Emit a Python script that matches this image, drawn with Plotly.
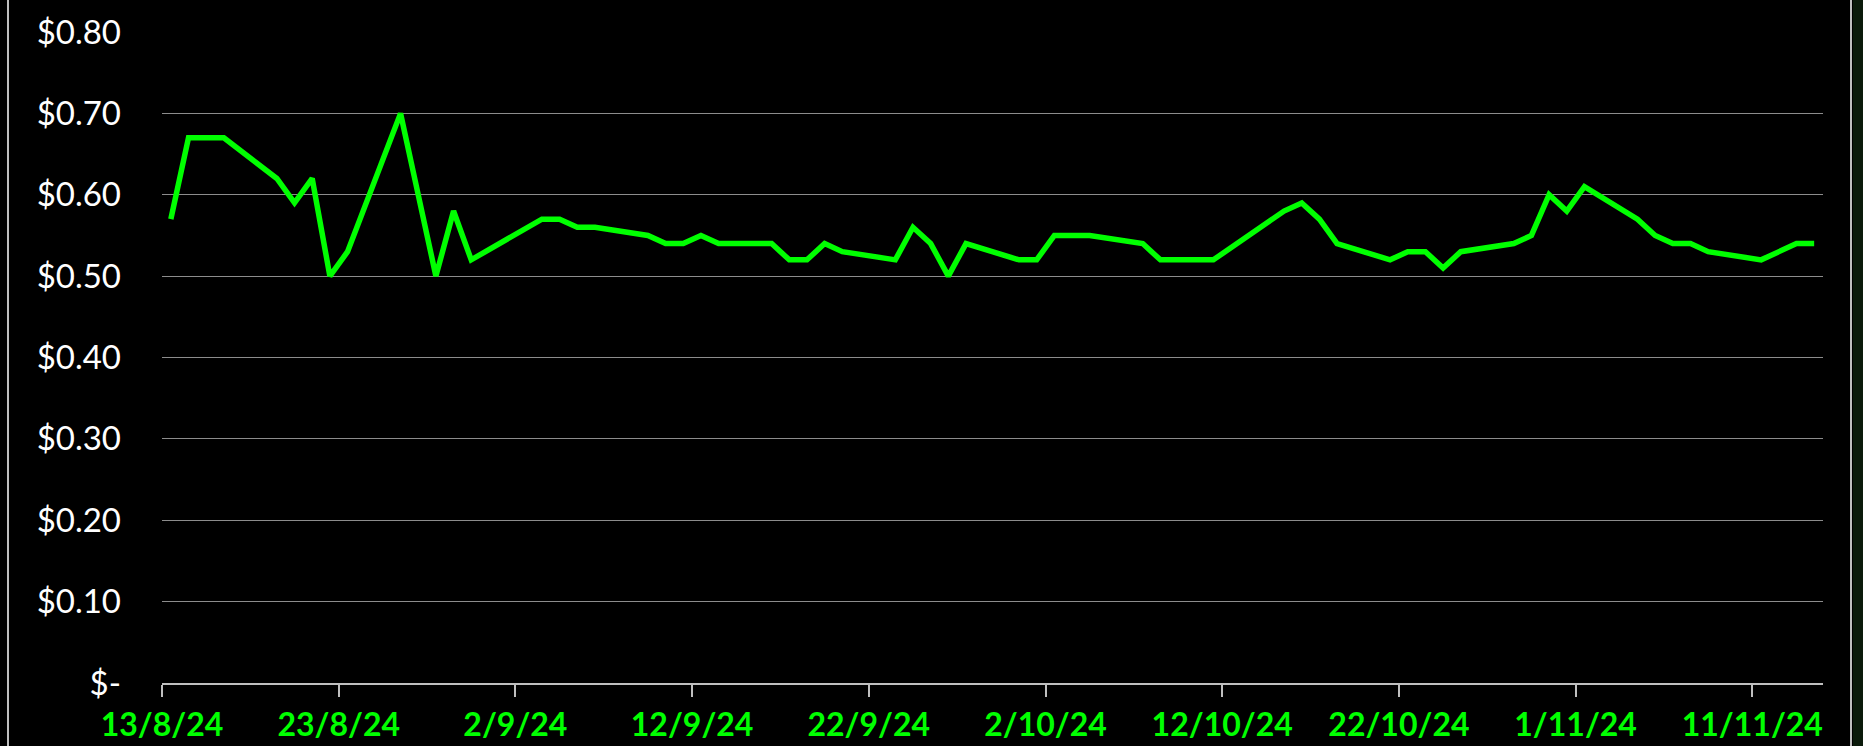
import pandas as pd
import plotly.graph_objects as go

# ---- data (trading days, price in USD) ----
dates = [
    "2024-08-13", "2024-08-14", "2024-08-15", "2024-08-16",
    "2024-08-19", "2024-08-20", "2024-08-21", "2024-08-22", "2024-08-23",
    "2024-08-26", "2024-08-27", "2024-08-28", "2024-08-29", "2024-08-30",
    "2024-09-03", "2024-09-04", "2024-09-05", "2024-09-06",
    "2024-09-09", "2024-09-10", "2024-09-11", "2024-09-12", "2024-09-13",
    "2024-09-16", "2024-09-17", "2024-09-18", "2024-09-19", "2024-09-20",
    "2024-09-23", "2024-09-24", "2024-09-25", "2024-09-26", "2024-09-27",
    "2024-09-30", "2024-10-01", "2024-10-02", "2024-10-03", "2024-10-04",
    "2024-10-07", "2024-10-08", "2024-10-09", "2024-10-10", "2024-10-11",
    "2024-10-14", "2024-10-15", "2024-10-16", "2024-10-17", "2024-10-18",
    "2024-10-21", "2024-10-22", "2024-10-23", "2024-10-24", "2024-10-25",
    "2024-10-28", "2024-10-29", "2024-10-30", "2024-10-31", "2024-11-01",
    "2024-11-04", "2024-11-05", "2024-11-06", "2024-11-07", "2024-11-08",
    "2024-11-11", "2024-11-12", "2024-11-13", "2024-11-14",
]
prices = [
    0.57, 0.67, 0.67, 0.67,
    0.62, 0.59, 0.62, 0.50, 0.53,
    0.70, 0.60, 0.50, 0.58, 0.52,
    0.57, 0.57, 0.56, 0.56,
    0.55, 0.54, 0.54, 0.55, 0.54,
    0.54, 0.52, 0.52, 0.54, 0.53,
    0.52, 0.56, 0.54, 0.50, 0.54,
    0.52, 0.52, 0.55, 0.55, 0.55,
    0.54, 0.52, 0.52, 0.52, 0.52,
    0.565, 0.58, 0.59, 0.57, 0.54,
    0.52, 0.53, 0.53, 0.51, 0.53,
    0.54, 0.55, 0.60, 0.58, 0.61,
    0.57, 0.55, 0.54, 0.54, 0.53,
    0.52, 0.53, 0.54, 0.54,
]
tick_dates = ["2024-08-13", "2024-08-23", "2024-09-02", "2024-09-12", "2024-09-22",
              "2024-10-02", "2024-10-12", "2024-10-22", "2024-11-01", "2024-11-11"]
tick_labels = ["13/8/24", "23/8/24", "2/9/24", "12/9/24", "22/9/24",
               "2/10/24", "12/10/24", "22/10/24", "1/11/24", "11/11/24"]
y_ticks = [0, 0.1, 0.2, 0.3, 0.4, 0.5, 0.6, 0.7, 0.8]
y_tick_labels = ["$-", "$0.10", "$0.20", "$0.30", "$0.40", "$0.50", "$0.60", "$0.70", "$0.80"]

# points sit in the middle of each day slot (date axis, "between tick marks")
x = pd.to_datetime(dates) + pd.Timedelta(hours=12)

fig = go.Figure()
fig.add_trace(go.Scatter(
    x=x, y=prices, mode="lines",
    line=dict(color="#00FF00", width=5.5),
    hoverinfo="x+y", showlegend=False,
))

W, H = 1863, 746
L, R, T, B = 162, 40, 32, 63

fig.update_layout(
    width=W, height=H,
    margin=dict(l=L, r=R, t=T, b=B, pad=0, autoexpand=False),
    paper_bgcolor="#000000",
    plot_bgcolor="#000000",
    showlegend=False,
    xaxis=dict(
        type="date",
        range=["2024-08-13", "2024-11-15"],
        tickvals=pd.to_datetime(tick_dates),
        ticktext=tick_labels,
        ticks="outside", ticklen=12, tickwidth=2, tickcolor="#BFBFBF",
        showline=True, linecolor="#BFBFBF", linewidth=2,
        showgrid=False, zeroline=False, automargin=False,
        tickfont=dict(family="Lato, 'Open Sans', sans-serif", size=32, color="#00FF00", weight="bold"),
        ticklabelstandoff=1,
    ),
    yaxis=dict(
        range=[0, 0.8],
        tickvals=y_ticks,
        ticktext=y_tick_labels,
        ticks="", showline=False,
        showgrid=True, gridcolor="#8C8C8C", gridwidth=1,
        zeroline=False, automargin=False,
        tickfont=dict(family="Lato, 'Open Sans', sans-serif", size=33, color="#FFFFFF"),
        ticklabelstandoff=40,
    ),
    shapes=[
        dict(type="line", xref="paper", yref="paper",
             x0=(8 - L) / (W - L - R), x1=(8 - L) / (W - L - R),
             y0=-1, y1=2, line=dict(color="#BFBFBF", width=2)),
        dict(type="line", xref="paper", yref="paper",
             x0=(1851 - L) / (W - L - R), x1=(1851 - L) / (W - L - R),
             y0=-1, y1=2, line=dict(color="#BFBFBF", width=2)),
        dict(type="rect", xref="paper", yref="paper",
             x0=(1853 - L) / (W - L - R), x1=(1870 - L) / (W - L - R),
             y0=-1, y1=2, line=dict(width=0), fillcolor="#0B1A0B", layer="below"),
    ],
)

fig.write_html(
    "out.html",
    config={"displayModeBar": False},
    post_script="document.body.style.margin='0';document.body.style.overflow='hidden';",
)
